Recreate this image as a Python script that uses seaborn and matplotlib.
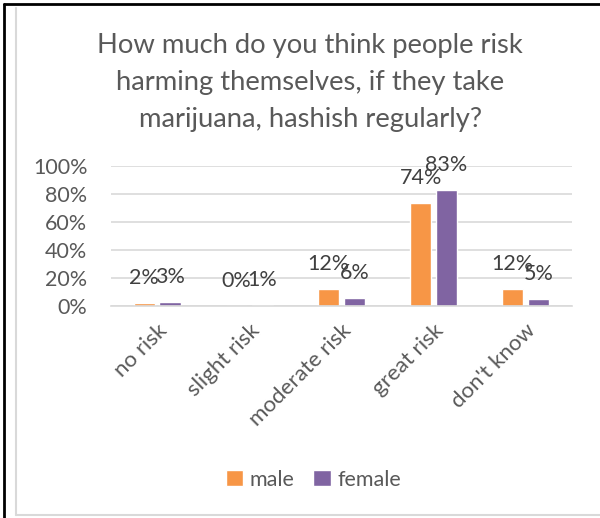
import pandas as pd
import seaborn as sns
import matplotlib.pyplot as plt
from matplotlib.lines import Line2D

categories = ['no risk', 'slight risk', 'moderate risk', 'great risk', "don't know"]
male = [2, 0, 12, 74, 12]
female = [3, 1, 6, 83, 5]
series_names = ['male', 'female']
ytick_values = [0, 20, 40, 60, 80, 100]
title = 'How much do you think people risk\nharming themselves, if they take\nmarijuana, hashish regularly?'

text_color = '#595959'
palette = ['#F79646', '#8064A2']

df = pd.DataFrame({
    'category': categories * 2,
    'value': male + female,
    'sex': ['male'] * len(categories) + ['female'] * len(categories),
})

sns.set_style('white')
plt.rcParams['font.family'] = ['Lato', 'DejaVu Sans']

fig = plt.figure(figsize=(6, 5.18), dpi=100)
ax = fig.add_axes([0.185, 0.409, 0.768, 0.2703])

sns.barplot(data=df, x='category', y='value', hue='sex', hue_order=series_names,
            palette=palette, width=0.56, gap=0.18, saturation=1, ax=ax)

# data labels above each bar
for container in ax.containers:
    for bar in container:
        h = bar.get_height()
        ax.annotate('{:.0f}%'.format(h), (bar.get_x() + bar.get_width() / 2, h),
                    xytext=(0, 18), textcoords='offset points', ha='center', va='center',
                    fontsize=15.5, color='#404040')

ax.set_ylim(0, 100)
ax.set_yticks(ytick_values)
ax.set_yticklabels(['{}%'.format(v) for v in ytick_values], fontsize=15.5, color=text_color)
ax.set_xticks(range(len(categories)))
ax.set_xticklabels(categories, rotation=45, ha='right', rotation_mode='anchor',
                   fontsize=16, color=text_color)
ax.tick_params(axis='y', length=0, pad=17)
ax.tick_params(axis='x', length=0, pad=10)
ax.set_xlabel('')
ax.set_ylabel('')
ax.grid(axis='y', color='#D9D9D9', linewidth=1.2)
ax.set_axisbelow(True)
sns.despine(ax=ax, top=True, right=True, left=True, bottom=False)
ax.spines['bottom'].set_color('#D9D9D9')
ax.spines['bottom'].set_linewidth(1.2)
ax.set_xlim(-0.5, len(categories) - 0.5)

sns.move_legend(ax, 'center', bbox_to_anchor=(0.522, 0.074), bbox_transform=fig.transFigure,
                ncol=2, frameon=False, title=None, fontsize=15.5, handlelength=0.8,
                handleheight=0.8, handletextpad=0.3, columnspacing=0.9)
for t in ax.get_legend().get_texts():
    t.set_color(text_color)

fig.text(0.517, 0.84, title, ha='center', va='center', fontsize=19.7, color=text_color,
         linespacing=1.6)

# frame lines
fig.add_artist(Line2D([0.007, 0.007], [0, 0.992], color='black', linewidth=2))
fig.add_artist(Line2D([0.007, 1], [0.992, 0.992], color='black', linewidth=2))
fig.add_artist(Line2D([0.027, 0.027], [0.005, 0.985], color='#D9D9D9', linewidth=1.5))
fig.add_artist(Line2D([0.027, 1], [0.005, 0.005], color='#D9D9D9', linewidth=1.5))

plt.savefig('out.png', dpi=100)
plt.close()
